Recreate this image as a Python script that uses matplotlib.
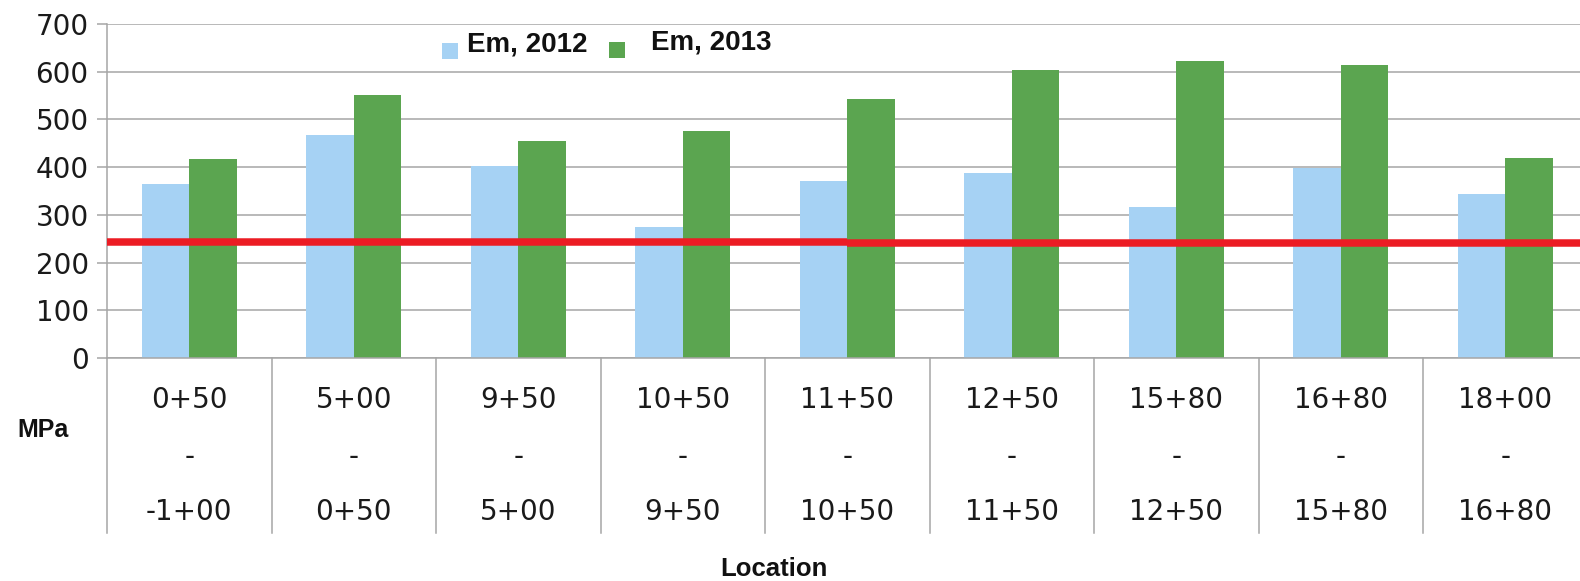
import matplotlib
matplotlib.use("Agg")
import matplotlib.pyplot as plt
from matplotlib.patches import Rectangle
import numpy as np

# Data
loc_from = ["0+50", "5+00", "9+50", "10+50", "11+50", "12+50", "15+80", "16+80", "18+00"]
loc_to = ["-1+00", "0+50", "5+00", "9+50", "10+50", "11+50", "12+50", "15+80", "16+80"]
em_2012 = [364, 468, 402, 274, 372, 388, 316, 398, 343]
em_2013 = [417, 552, 454, 475, 543, 603, 622, 615, 420]
# Reference modulus line: two segments (split at the 10+50 / 11+50 section)
ref_segments = [(-0.5, 4.0, 244), (4.0, 9.0, 241)]
y_ticks = [0, 100, 200, 300, 400, 500, 600, 700]
legend_labels = ["Em, 2012", "Em, 2013"]

BLUE = "#a6d2f4"
GREEN = "#5ba550"
RED = "#ec1c24"
GRID = "#a6a6a6"
TEXT = "#1a1a1a"

W, H = 1580, 581
fig = plt.figure(figsize=(W / 100, H / 100), dpi=100)
fig.patch.set_facecolor("white")

left_px, zero_px, top_px = 107, 358, 24
cat_px = 164.5
ax = fig.add_axes([left_px / W, (H - zero_px) / H, 1 - left_px / W, (zero_px - top_px) / H])

x = np.arange(len(loc_from))
bw = 0.29
ax.bar(x - bw / 2, em_2012, width=bw, color=BLUE, zorder=2)
ax.bar(x + bw / 2, em_2013, width=bw, color=GREEN, zorder=2)

for x0, x1, v in ref_segments:
    ax.plot([x0, x1], [v, v], color=RED, lw=5.4, solid_capstyle="butt", zorder=3)

ax.set_xlim(-0.5, -0.5 + (W - left_px) / cat_px)
ax.set_ylim(0, 700)
ax.set_yticks(y_ticks)
ax.set_yticklabels([str(t) for t in y_ticks], fontsize=20, color=TEXT, family="DejaVu Sans")
ax.set_xticks([])
ax.tick_params(axis="y", length=7.2, width=1.1, color=GRID, pad=6)
ax.yaxis.grid(True, color=GRID, lw=1.1, zorder=0)
ax.set_axisbelow(True)
for s in ["top", "right"]:
    ax.spines[s].set_visible(False)
for s in ["left", "bottom"]:
    ax.spines[s].set_color(GRID)
    ax.spines[s].set_linewidth(1.1)

# Category dividers below the axis
axis_h_px = zero_px - top_px
div_len = (533 - zero_px) / axis_h_px
trans = matplotlib.transforms.blended_transform_factory(ax.transData, ax.transAxes)
for k in range(len(loc_from) + 1):
    ax.plot([k - 0.5, k - 0.5], [0, -div_len], transform=trans, color=GRID,
            lw=1.1, clip_on=False, zorder=1)

# Multi-line category labels
for i, (a, b) in enumerate(zip(loc_from, loc_to)):
    for txt, off in [(a, 42), ("-", 99), (b, 154)]:
        ax.annotate(txt, xy=(i, 0), xycoords=("data", "axes fraction"),
                    xytext=(0, -off * 0.72), textcoords="offset points",
                    ha="center", va="center", fontsize=20, color=TEXT,
                    family="DejaVu Sans", annotation_clip=False)

# Axis titles
fig.text(43 / W, 1 - 430 / H, "MPa", ha="center", va="center", fontsize=18,
         fontweight="bold", family="Liberation Sans", color="#111111")
fig.text(774 / W, 1 - 569 / H, "Location", ha="center", va="center", fontsize=18.5,
         fontweight="bold", family="Liberation Sans", color="#111111")

# Legend
for (rx, ry), col in zip([(442, 43), (609, 42)], [BLUE, GREEN]):
    fig.patches.append(Rectangle((rx / W, 1 - (ry + 16) / H), 16 / W, 16 / H,
                                 transform=fig.transFigure, facecolor=col,
                                 edgecolor="none", zorder=5))
for (tx, ty), lab in zip([(467, 52), (651, 49)], legend_labels):
    fig.text(tx / W, 1 - ty / H, lab, ha="left", va="baseline", fontsize=20,
             fontweight="bold", family="Liberation Sans", color="#111111")

fig.savefig("out.png", dpi=100, facecolor="white")
